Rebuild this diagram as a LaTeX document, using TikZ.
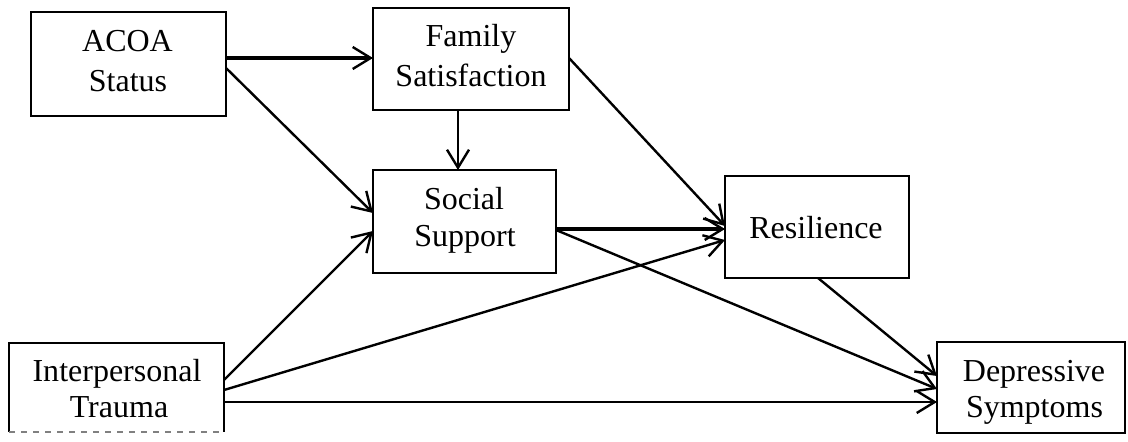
\documentclass[tikz,border=0pt]{standalone}
\usepackage{fontspec}
\setmainfont{Liberation Serif}
\usetikzlibrary{arrows.meta,calc}
\begin{document}
\begin{tikzpicture}[x=0.5pt,y=-0.5pt,
  box/.style={draw,line width=1.1pt,inner sep=0pt,outer sep=0pt},
  txt/.style={anchor=base,inner sep=0pt,font=\fontsize{16}{18}\selectfont},
  conn/.style={line width=1.2pt,-{Straight Barb[length=9pt,width=11pt,line width=1.2pt]}},
  thick conn/.style={conn,line width=1.6pt}]
\useasboundingbox (0,0) rectangle (1128,442);
% boxes
\node[box,minimum width=97.5pt,minimum height=52pt] (acoa) at (128.5,64) {};
\node[box,minimum width=98pt,minimum height=51pt] (family) at (471,59) {};
\node[box,minimum width=91.5pt,minimum height=51.5pt] (social) at (464.5,221.5) {};
\node[box,minimum width=92pt,minimum height=51pt] (resil) at (817,227) {};
\node[inner sep=0pt,outer sep=0pt,minimum width=107.5pt,minimum height=44.5pt] (trauma) at (116.5,387.5) {};
\draw[line width=1.1pt] (trauma.south west) -- (trauma.north west) -- (trauma.north east) -- (trauma.south east);
\draw[line width=0.6pt,dashed,gray] (trauma.south west) -- (trauma.south east);
\node[box,minimum width=94pt,minimum height=45.5pt] (depr) at (1031,387.5) {};
% texts
\node[txt] (acoaA) at (127.5,52) {ACOA};
\node[txt] (acoaB) at (128,92) {Status};
\node[txt] (famA) at (471,47) {Family};
\node[txt] (famB) at (471,87) {Satisfaction};
\node[txt] (socA) at (464,210) {Social};
\node[txt] (socB) at (465,247) {Support};
\node[txt] (resA) at (816,239) {Resilience};
\node[txt] (traA) at (117,382) {Interpersonal};
\node[txt] (traB) at (119,418) {Trauma};
\node[txt] (depA) at (1034,382) {Depressive};
\node[txt] (depB) at (1034.5,418) {Symptoms};
% connectors
\draw[thick conn] ($(acoa.east)+(0,-6)$) -- ($(family.west)+(0,-1)$);
\draw[conn] ($(acoa.east)+(0,4)$) -- ($(social.west)+(0,-8.5)$);
\draw[conn] ($(family.south)+(-13,0)$) -- ($(social.north)+(-6.5,0)$);
\draw[conn] ($(family.east)+(0,-1)$) -- ($(resil.west)+(0,-1)$);
\draw[thick conn] ($(social.east)+(0,7.5)$) -- ($(resil.west)+(0,2)$);
\draw[conn] ($(social.east)+(0,8.5)$) -- ($(depr.west)+(0,1.5)$);
\draw[conn] ($(resil.south)+(1,0)$) -- ($(depr.west)+(0,-11.5)$);
\draw[conn] ($(trauma.east)+(0,-7.5)$) -- ($(social.west)+(0,9.5)$);
\draw[conn] ($(trauma.east)+(0,2.5)$) -- ($(resil.west)+(0,13)$);
\draw[conn] ($(trauma.east)+(0,14.5)$) -- ($(depr.west)+(0,14.5)$);
\end{tikzpicture}
\end{document}
